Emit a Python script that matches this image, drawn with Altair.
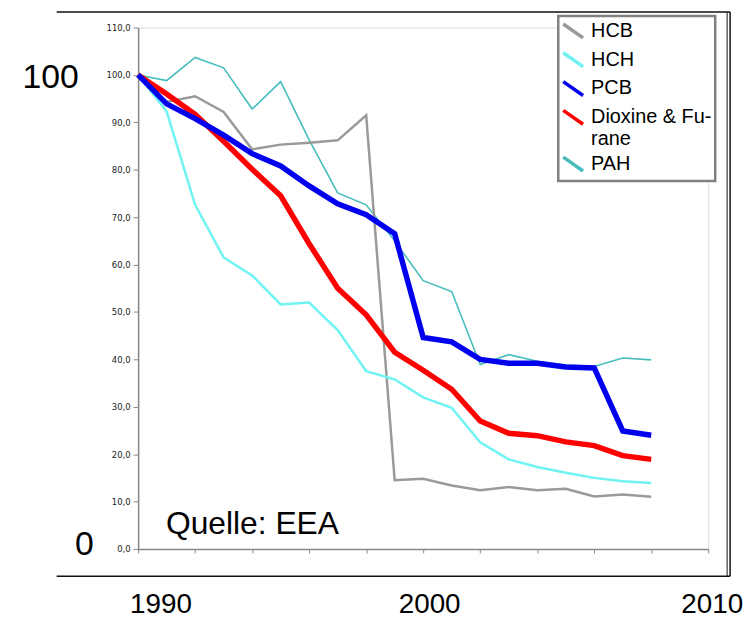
import altair as alt
import pandas as pd

years = list(range(1990, 2009))
series = ["HCB", "HCH", "PCB", "Dioxine & Furane", "PAH"]
hcb = [100, 94.3, 95.5, 92.2, 84.3, 85.3, 85.7, 86.2, 91.5, 14.5, 14.8, 13.4, 12.4, 13.1, 12.4, 12.7, 11.1, 11.5, 11.0]
hch = [100, 92.3, 72.6, 61.5, 57.7, 51.6, 52.0, 46.2, 37.5, 35.8, 32.0, 29.8, 22.5, 18.9, 17.3, 16.1, 15.0, 14.3, 13.9]
pcb = [100, 93.9, 90.8, 87.3, 83.4, 80.8, 76.6, 72.8, 70.5, 66.5, 44.6, 43.7, 40.0, 39.2, 39.2, 38.4, 38.2, 24.9, 24.0]
diox = [100, 96.0, 91.7, 86.0, 80.1, 74.5, 64.4, 55.0, 49.4, 41.5, 37.7, 33.7, 27.0, 24.4, 23.9, 22.6, 21.8, 19.7, 18.9]
pah = [100, 98.8, 103.7, 101.5, 92.8, 98.6, 86.3, 75.1, 72.6, 65.0, 56.6, 54.3, 38.9, 41.0, 39.6, 38.8, 38.5, 40.3, 39.9]

colors = ["#9a9a9a", "#6ff3f3", "#0000ee", "#ff0000", "#46bdbd"]
widths = [2.5, 2.5, 5.5, 5.5, 1.6]
draw_order = ["PAH", "HCB", "HCH", "Dioxine & Furane", "PCB"]
y_ticks = list(range(0, 111, 10))
x_ticks = list(range(1990, 2011, 2))
big_x_labels = ["1990", "2000", "2010"]
big_y_labels = ["100", "0"]
source_note = "Quelle: EEA"

rows = []
for name, vals in zip(series, [hcb, hch, pcb, diox, pah]):
    for yr, v in zip(years, vals):
        rows.append({"Jahr": yr, "Wert": v, "Stoff": name})
df = pd.DataFrame(rows)

leg = alt.Legend(
    title=None, orient="none", legendX=423, legendY=-11.6,
    strokeColor="#808080", fillColor="white", padding=3,
    symbolType="M-1,-0.7L1,0.7", symbolSize=400, symbolStrokeWidth=3.5,
    labelFont="Liberation Sans",
    labelFontSize=20, labelColor="black", labelOffset=6, rowPadding=1,
    labelLimit=300,
    labelExpr="datum.label == 'Dioxine & Furane' ? ['Dioxine & Fu-', 'rane'] : datum.label",
)

base = alt.Chart(df).encode(
    x=alt.X("Jahr:Q", scale=alt.Scale(domain=[1990, 2010], nice=False, zero=False),
            axis=alt.Axis(values=x_ticks, labels=False, title=None, grid=False,
                          domainColor="#888888", tickColor="#888888", tickSize=4,
                          domainWidth=1.5)),
    y=alt.Y("Wert:Q", scale=alt.Scale(domain=[0, 110], nice=False),
            axis=alt.Axis(values=y_ticks, title=None, grid=False,
                          labelExpr="replace(format(datum.value, '.1f'), '.', ',')",
                          labelFont="DejaVu Sans", labelFontSize=8.5, labelColor="#222222",
                          tickColor="#888888", domainColor="#888888", tickSize=5,
                          labelPadding=3, domainWidth=1.5)),
    color=alt.Color("Stoff:N", scale=alt.Scale(domain=series, range=colors), legend=leg),
)

# legend-only layer (no rows) so that all legend symbols share one stroke width
legend_layer = base.transform_filter("false").mark_line(strokeWidth=3.5)

series_layers = []
for name in draw_order:
    w = widths[series.index(name)]
    series_layers.append(
        base.transform_filter(alt.FieldEqualPredicate(field="Stoff", equal=name)).mark_line(strokeWidth=w)
    )


def annot(text, x, y, size, font="Liberation Sans", align="center", baseline="alphabetic"):
    return alt.Chart(pd.DataFrame({"t": [text]})).mark_text(
        font=font, fontSize=size, align=align, baseline=baseline, color="black"
    ).encode(x=alt.value(x), y=alt.value(y), text="t:N")


def frame_line(x1, x2, y1, y2, w):
    return alt.Chart(pd.DataFrame({"a": [0]})).mark_rule(color="#111111", strokeWidth=w).encode(
        x=alt.value(x1), x2=alt.value(x2), y=alt.value(y1), y2=alt.value(y2))


layers = [legend_layer] + series_layers + [
    annot(big_y_labels[0], -88, 50.4, 34, baseline="middle"),
    annot(big_y_labels[1], -54, 521.4, 34, baseline="middle"),
    annot(big_x_labels[0], 23, 589.5, 28),
    annot(big_x_labels[1], 293.5, 589.5, 28),
    annot(big_x_labels[2], 578, 589.5, 28),
    annot(source_note, 28, 510.4, 32, align="left"),
    frame_line(-82, 596, -15.6, -15.6, 1.5),
    frame_line(-82, 596, 552.4, 552.4, 1.5),
    frame_line(593, 593, -15.6, 552.4, 1),
    frame_line(596, 596, -15.6, 552.4, 1.5),
]

chart = alt.layer(*layers).properties(
    width=574, height=525,
    autosize=alt.AutoSizeParams(type="none"),
    padding={"left": 131, "top": 17.6, "right": 37, "bottom": 68},
).configure_view(stroke=None).configure(background="white").configure_legend(strokeWidth=2.5)

chart.save("out.html", embed_options={"renderer": "svg", "actions": False})
